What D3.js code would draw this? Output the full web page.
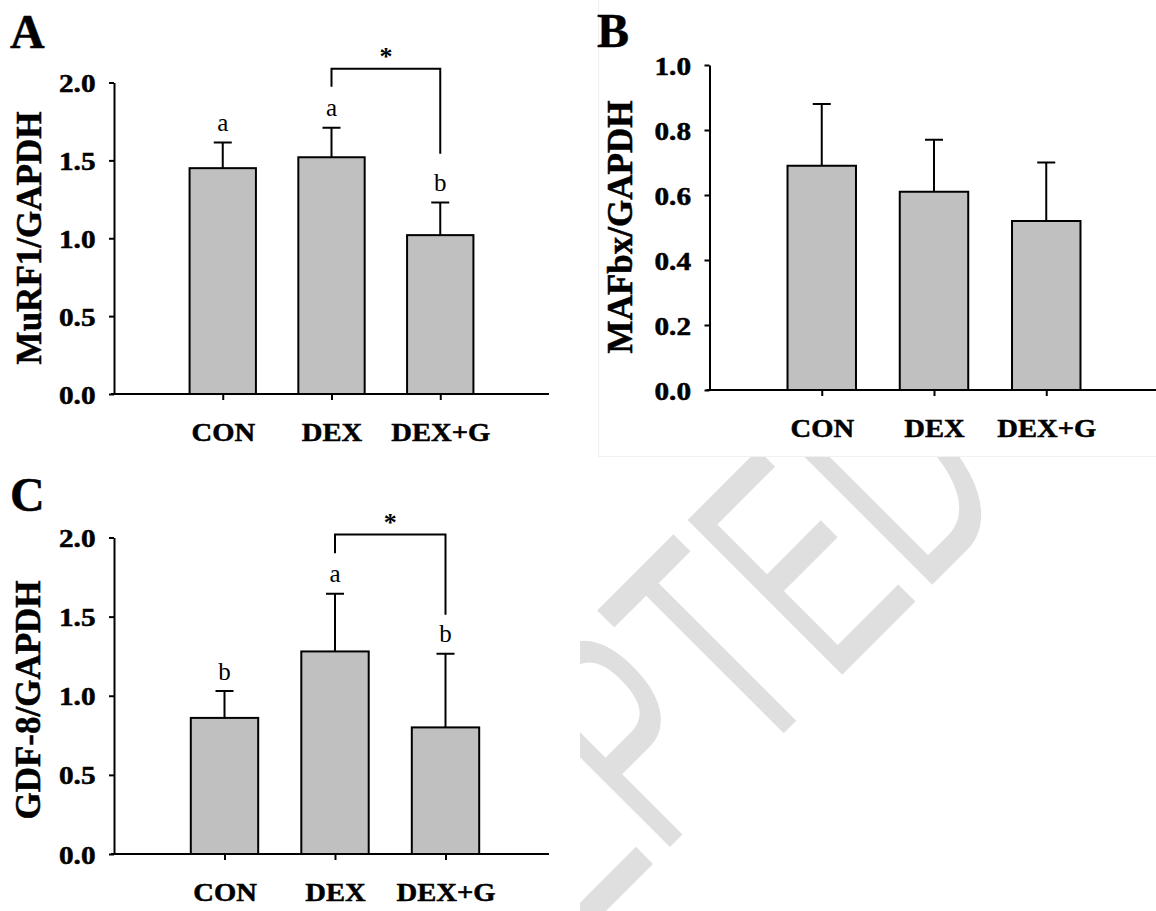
<!DOCTYPE html>
<html>
<head>
<meta charset="utf-8">
<script src="https://cdn.jsdelivr.net/npm/d3@7"></script>
<style>
body { margin: 0; background: #fff; }
svg text { font-family: "Liberation Serif", "Times New Roman", serif; }
</style>
</head>
<body>
<div id="chart"></div>
<script>
// group names, shared by the three panels
var categories = ["CON", "DEX", "DEX+G"];

// A: MuRF1/GAPDH
var murf1Mean = [1.45, 1.52, 1.02];
var murf1Sem = [0.165, 0.19, 0.21];
var murf1Letters = ["a", "a", "b"];
var murf1Ticks = [0, 0.5, 1.0, 1.5, 2.0];
var murf1Bracket = { from: "DEX", to: "DEX+G", top: 2.088, left: 1.972, right: 1.543, mark: "*" };

// B: MAFbx/GAPDH
var mafbxMean = [0.69, 0.61, 0.52];
var mafbxSem = [0.19, 0.16, 0.18];
var mafbxTicks = [0, 0.2, 0.4, 0.6, 0.8, 1.0];

// C: GDF-8/GAPDH
var gdf8Mean = [0.86, 1.28, 0.80];
var gdf8Sem = [0.17, 0.365, 0.465];
var gdf8Letters = ["b", "a", "b"];
var gdf8Ticks = [0, 0.5, 1.0, 1.5, 2.0];
var gdf8Bracket = { from: "DEX", to: "DEX+G", top: 2.019, left: 1.90, right: 1.512, mark: "*" };

var W = 1156, H = 911;
var tickStretch = 1.17;   // the figure's horizontal text is a bit wide
var catStretch = 1.1;

var svg = d3.select("#chart").append("svg")
    .attr("width", W)
    .attr("height", H);

svg.append("rect").attr("width", W).attr("height", H).attr("fill", "#fff");

// watermark behind the panels
svg.append("text")
    .attr("transform", "translate(284,1233) rotate(-45) scale(0.6,1)")
    .style("font-family", "'Liberation Sans', Arial, sans-serif")
    .style("font-size", "318px")
    .attr("fill", "#dfdfdf")
    .text("ACCEPTED");

// panel backgrounds (they hide the watermark)
svg.append("rect").attr("x", 0).attr("y", 0).attr("width", 580).attr("height", 460).attr("fill", "#fff");
svg.append("rect").attr("x", 598).attr("y", 0).attr("width", 558).attr("height", 457).attr("fill", "#fff");
svg.append("rect").attr("x", 0).attr("y", 460).attr("width", 580).attr("height", 451).attr("fill", "#fff");
svg.append("path")
    .attr("d", "M598.5,0V456.5H1156")
    .attr("fill", "none")
    .attr("stroke", "#f1f1f1")
    .attr("stroke-width", 1);

function boldText(sel) {
    // slightly heavier than plain bold, like the scanned figure
    return sel.style("font-weight", "bold")
        .attr("stroke", "#000")
        .attr("stroke-width", 0.5);
}

function drawBar(p) {
    var g = svg.append("g");

    var x = d3.scalePoint().domain(categories).range([p.x0, p.x1]).padding(1);
    var y = d3.scaleLinear().domain([0, p.yMax]).range([p.yBottom, p.yTop]);
    var barW = x.step() * 0.61;

    var data = categories.map(function (c, i) {
        return { cat: c, mean: p.means[i], sem: p.sems[i], letter: p.letters ? p.letters[i] : null };
    });

    // error bars (upper only)
    g.selectAll(".err")
        .data(data)
        .enter().append("path")
        .attr("class", "err")
        .attr("d", function (d) {
            var cx = x(d.cat), top = y(d.mean + d.sem);
            return "M" + cx + "," + y(d.mean) + "V" + top + "M" + (cx - 9) + "," + top + "H" + (cx + 9);
        })
        .attr("fill", "none")
        .attr("stroke", "#000")
        .attr("stroke-width", 2);

    // bars
    g.selectAll(".bar")
        .data(data)
        .enter().append("rect")
        .attr("class", "bar")
        .attr("x", function (d) { return x(d.cat) - barW / 2; })
        .attr("y", function (d) { return y(d.mean); })
        .attr("width", barW)
        .attr("height", function (d) { return y(0) - y(d.mean); })
        .attr("fill", "#c0c0c0")
        .attr("stroke", "#000")
        .attr("stroke-width", 2);

    // y-axis
    var yAxis = d3.axisLeft(y)
        .tickValues(p.ticks)
        .tickFormat(d3.format(".1f"))
        .tickSize(5)
        .tickSizeOuter(0);
    var ga = g.append("g")
        .attr("transform", "translate(" + p.x0 + ",0)")
        .call(yAxis)
        .attr("font-size", null)
        .attr("font-family", null);
    ga.select(".domain").attr("stroke-width", 2);
    ga.selectAll(".tick line").attr("stroke-width", 2);
    boldText(ga.selectAll(".tick text")
        .attr("x", -18.5 / tickStretch)
        .attr("dy", "0.36em")
        .attr("transform", "scale(" + tickStretch + ",1)")
        .style("font-size", "25px")
        .attr("fill", "#000"));

    // x-axis
    var xAxis = d3.axisBottom(x).tickSize(6).tickSizeOuter(0);
    var gx = g.append("g")
        .attr("transform", "translate(0," + y(0) + ")")
        .call(xAxis)
        .attr("font-size", null)
        .attr("font-family", null);
    gx.select(".domain").remove();
    gx.selectAll(".tick line").attr("stroke-width", 2);
    boldText(gx.selectAll(".tick text")
        .attr("y", 47)
        .attr("dy", null)
        .attr("transform", "scale(" + catStretch + ",1)")
        .style("font-size", "26px")
        .attr("fill", "#000"));
    g.append("line")
        .attr("x1", p.x0 - 3)
        .attr("x2", p.xEnd)
        .attr("y1", y(0))
        .attr("y2", y(0))
        .attr("stroke", "#000")
        .attr("stroke-width", 2);

    // significance letters
    if (p.letters) {
        g.selectAll(".sig")
            .data(data)
            .enter().append("text")
            .attr("class", "sig")
            .attr("x", function (d) { return x(d.cat); })
            .attr("y", function (d) { return y(d.mean + d.sem) - 11.5; })
            .attr("text-anchor", "middle")
            .style("font-size", "25px")
            .text(function (d) { return d.letter; });
    }

    // bracket with asterisk
    if (p.bracket) {
        var b = p.bracket;
        g.append("path")
            .attr("d", "M" + x(b.from) + "," + y(b.left) + "V" + y(b.top) + "H" + x(b.to) + "V" + y(b.right))
            .attr("fill", "none")
            .attr("stroke", "#000")
            .attr("stroke-width", 2);
        g.append("text")
            .attr("x", (x(b.from) + x(b.to)) / 2)
            .attr("y", y(b.top) - 3.5)
            .attr("text-anchor", "middle")
            .style("font-size", "26px")
            .style("font-weight", "bold")
            .text(b.mark);
    }

    // y title
    boldText(g.append("text")
        .attr("transform", "translate(" + p.titleX + "," + p.titleY + ") rotate(-90)")
        .attr("text-anchor", "middle")
        .style("font-size", "35px")
        .text(p.title));

    // panel letter
    boldText(g.append("text")
        .attr("x", p.letterX)
        .attr("y", p.letterY)
        .style("font-size", "48px")
        .text(p.letter));
}

drawBar({
    letter: "A", letterX: 10, letterY: 48,
    title: "MuRF1/GAPDH", titleX: 41, titleY: 238,
    means: murf1Mean, sems: murf1Sem, letters: murf1Letters, ticks: murf1Ticks,
    bracket: murf1Bracket, yMax: 2.0,
    x0: 114, x1: 549, xEnd: 549, yTop: 82.5, yBottom: 394
});

drawBar({
    letter: "B", letterX: 597, letterY: 47,
    title: "MAFbx/GAPDH", titleX: 632, titleY: 227,
    means: mafbxMean, sems: mafbxSem, letters: null, ticks: mafbxTicks,
    bracket: null, yMax: 1.0,
    x0: 709.5, x1: 1158.5, xEnd: 1156, yTop: 65, yBottom: 390
});

drawBar({
    letter: "C", letterX: 10, letterY: 511,
    title: "GDF-8/GAPDH", titleX: 40, titleY: 700,
    means: gdf8Mean, sems: gdf8Sem, letters: gdf8Letters, ticks: gdf8Ticks,
    bracket: gdf8Bracket, yMax: 2.0,
    x0: 114, x1: 556, xEnd: 549, yTop: 537.5, yBottom: 854
});
</script>
</body>
</html>
